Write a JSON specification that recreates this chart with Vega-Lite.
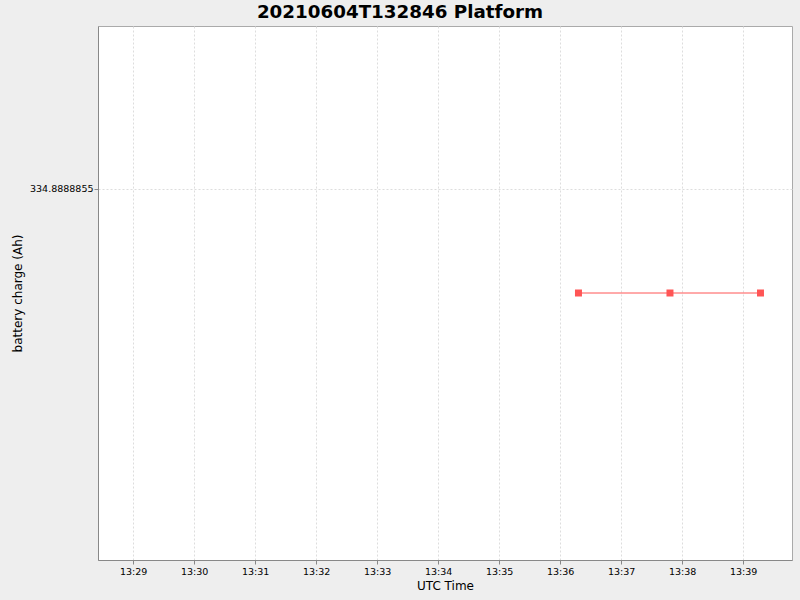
{
  "$schema": "https://vega.github.io/schema/vega-lite/v6.json",
  "autosize": {"type": "none"},
  "width": 694,
  "height": 534,
  "padding": {"left": 98, "top": 26, "right": 8, "bottom": 40},
  "background": "#EEEEEE",
  "title": {
    "text": "20210604T132846 Platform",
    "font": "DejaVu Sans",
    "fontSize": 18.3,
    "fontWeight": "bold",
    "color": "#000000",
    "anchor": "middle",
    "dx": -45,
    "offset": 4
  },
  "config": {
    "view": {"fill": "#FFFFFF", "stroke": "#AAAAAA", "strokeWidth": 1},
    "axis": {
      "labelFont": "DejaVu Sans",
      "labelFontSize": 9.5,
      "labelColor": "#000000",
      "titleFont": "DejaVu Sans",
      "titleFontSize": 12,
      "titleFontWeight": "normal",
      "titleColor": "#000000",
      "domainColor": "#888888",
      "tickColor": "#888888",
      "tickSize": 4,
      "gridColor": "#DDDDDD",
      "gridDash": [2, 2],
      "gridWidth": 1
    }
  },
  "data": {
    "values": [
      {"time": "2021-06-04T13:36:18", "charge": 334.888885},
      {"time": "2021-06-04T13:37:48", "charge": 334.888885},
      {"time": "2021-06-04T13:39:17", "charge": 334.888885}
    ]
  },
  "layer": [
    {
      "mark": {"type": "line", "color": "#FF5555", "strokeWidth": 1},
      "encoding": {
        "x": {
          "field": "time",
          "type": "temporal",
          "scale": {"domain": [
            {"year": 2021, "month": 6, "date": 4, "hours": 13, "minutes": 28, "seconds": 25, "milliseconds": 500},
            {"year": 2021, "month": 6, "date": 4, "hours": 13, "minutes": 39, "seconds": 48}
          ]},
          "axis": {
            "title": "UTC Time",
            "format": "%H:%M",
            "tickCount": 12,
            "labelPadding": 2,
            "titlePadding": 5
          }
        },
        "y": {
          "field": "charge",
          "type": "quantitative",
          "scale": {"domain": [334.8888837179, 334.8888862821], "zero": false, "nice": false},
          "axis": {
            "title": "battery charge (Ah)",
            "values": [334.8888855],
            "format": ".7f",
            "labelPadding": 1,
            "titlePadding": 5
          }
        }
      }
    },
    {
      "mark": {"type": "point", "shape": "square", "filled": true, "color": "#FF5555", "size": 49, "opacity": 1},
      "encoding": {
        "x": {"field": "time", "type": "temporal"},
        "y": {"field": "charge", "type": "quantitative"}
      }
    }
  ]
}
